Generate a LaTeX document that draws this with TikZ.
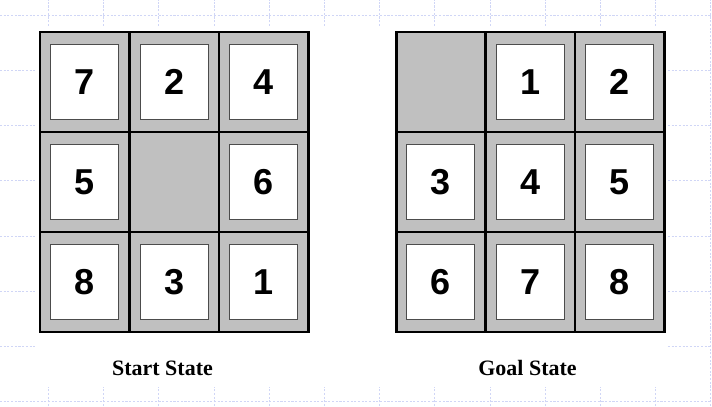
\documentclass[tikz,border=0pt]{standalone}
\usepackage{fontspec}
\setmainfont{Liberation Serif}
\newfontfamily\tilefont{Liberation Sans}
\usepackage{xcolor}
\usepackage{tikz}
\definecolor{cellgray}{RGB}{192,192,192}
\definecolor{gridblue}{RGB}{208,214,246}
\tikzset{
  bggrid/.style={draw=gridblue,line width=0.35pt,dash pattern=on 1.2pt off 0.9pt,step=1.104cm},
  tile/.style={draw=black!70,fill=white,line width=0.8pt,minimum width=1.36cm,minimum height=1.5cm,inner sep=0pt,font=\tilefont\bfseries\fontsize{20.5}{21}\selectfont},
  divider/.style={draw=black,line width=1.3pt},
  frame/.style={draw=black,line width=1.7pt},
  caption/.style={anchor=base,inner sep=0pt,font=\bfseries\fontsize{12.5}{13}\selectfont}
}

\begin{document}
\begin{tikzpicture}[x=0.02cm,y=0.02cm]
  % drawing parameters
  \pgfmathsetmacro{\cwdt}{89.5} % width of a cell
  \pgfmathsetmacro{\chgt}{100} % height of a cell
  \pgfmathsetmacro{\sx}{40} % left edge of start board
  \pgfmathsetmacro{\gx}{396} % left edge of goal board
  \pgfmathsetmacro{\by}{74} % bottom edge of both boards

  \useasboundingbox (0,0) rectangle (712,406);

  % background grid
  \begin{scope}[shift={(48.3,4.6)}]
    \draw[bggrid] (-48.3,-4.6) grid (663.7,401.4);
  \end{scope}
  \fill[white] (35,19) rectangle (666,378);

  % start board
  \fill[cellgray] (\sx,\by) rectangle ++(3*\cwdt,3*\chgt);
  \draw[divider] (\sx+\cwdt,\by) -- ++(0,3*\chgt);
  \draw[divider] (\sx+2*\cwdt,\by) -- ++(0,3*\chgt);
  \draw[divider] (\sx,\by+\chgt) -- ++(3*\cwdt,0);
  \draw[divider] (\sx,\by+2*\chgt) -- ++(3*\cwdt,0);
  \draw[frame] (\sx,\by) rectangle ++(3*\cwdt,3*\chgt);

  \node[tile] (s7) at (\sx+0.5*\cwdt,\by+2.5*\chgt) {7};
  \node[tile] (s2) at (\sx+1.5*\cwdt,\by+2.5*\chgt) {2};
  \node[tile] (s4) at (\sx+2.5*\cwdt,\by+2.5*\chgt) {4};
  \node[tile] (s5) at (\sx+0.5*\cwdt,\by+1.5*\chgt) {5};
  \node[tile] (s6) at (\sx+2.5*\cwdt,\by+1.5*\chgt) {6};
  \node[tile] (s8) at (\sx+0.5*\cwdt,\by+0.5*\chgt) {8};
  \node[tile] (s3) at (\sx+1.5*\cwdt,\by+0.5*\chgt) {3};
  \node[tile] (s1) at (\sx+2.5*\cwdt,\by+0.5*\chgt) {1};

  % goal board
  \fill[cellgray] (\gx,\by) rectangle ++(3*\cwdt,3*\chgt);
  \draw[divider] (\gx+\cwdt,\by) -- ++(0,3*\chgt);
  \draw[divider] (\gx+2*\cwdt,\by) -- ++(0,3*\chgt);
  \draw[divider] (\gx,\by+\chgt) -- ++(3*\cwdt,0);
  \draw[divider] (\gx,\by+2*\chgt) -- ++(3*\cwdt,0);
  \draw[frame] (\gx,\by) rectangle ++(3*\cwdt,3*\chgt);

  \node[tile] (g1) at (\gx+1.5*\cwdt,\by+2.5*\chgt) {1};
  \node[tile] (g2) at (\gx+2.5*\cwdt,\by+2.5*\chgt) {2};
  \node[tile] (g3) at (\gx+0.5*\cwdt,\by+1.5*\chgt) {3};
  \node[tile] (g4) at (\gx+1.5*\cwdt,\by+1.5*\chgt) {4};
  \node[tile] (g5) at (\gx+2.5*\cwdt,\by+1.5*\chgt) {5};
  \node[tile] (g6) at (\gx+0.5*\cwdt,\by+0.5*\chgt) {6};
  \node[tile] (g7) at (\gx+1.5*\cwdt,\by+0.5*\chgt) {7};
  \node[tile] (g8) at (\gx+2.5*\cwdt,\by+0.5*\chgt) {8};

  % captions
  \node[caption] (start) at (162.5,30.5) {Start State};
  \node[caption] (goal) at (527.5,31) {Goal State};
\end{tikzpicture}
\end{document}
